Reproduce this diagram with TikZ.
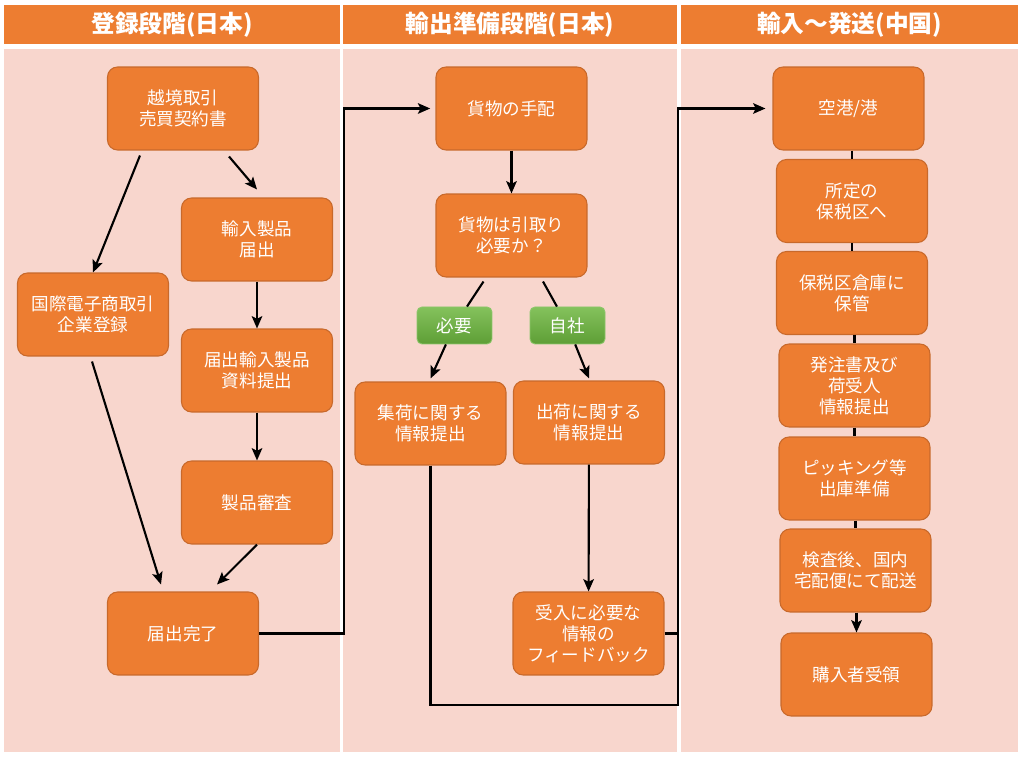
\documentclass[tikz,border=0pt]{standalone}
\usepackage{fontspec}
\usepackage{tikz}
\usetikzlibrary{calc,arrows.meta}
\newfontfamily\jpfont{Noto Sans CJK JP}
\definecolor{hdr}{HTML}{ED7D31}
\definecolor{pnl}{HTML}{F8D6CD}
\definecolor{boxfill}{HTML}{ED7D31}
\definecolor{boxline}{HTML}{C8692B}
\definecolor{tagtop}{HTML}{84C25C}
\definecolor{tagbot}{HTML}{5E9E36}
\definecolor{tagline}{HTML}{8CC66A}

\begin{document}
\begin{tikzpicture}[x=0.02cm,y=-0.02cm,
  box/.style={draw=boxline,line width=0.6pt,fill=boxfill,rounded corners=0.2cm,minimum width=3.02cm,minimum height=1.66cm,inner sep=2pt,align=center,text=white,font=\jpfont\fontsize{10}{12}\selectfont},
  tag/.style={draw=tagline,line width=0.5pt,top color=tagtop,bottom color=tagbot,rounded corners=0.1cm,minimum width=1.5cm,minimum height=0.74cm,text=white,font=\jpfont\fontsize{10}{12}\selectfont},
  head/.style={fill=hdr,minimum height=0.78cm,inner sep=0pt,text=white,font=\jpfont\bfseries\fontsize{13.5}{16}\selectfont},
  arr/.style={line width=1.2pt,-{Stealth[length=7pt,width=6pt,inset=1.5pt]}},
  con/.style={line width=1.2pt}]
\useasboundingbox (0,0) rectangle (1024,759);
\fill[white] (0,0) rectangle (1024,759);
\fill[pnl] (4,49) rectangle (340,752);
\fill[pnl] (343,49) rectangle (677,752);
\fill[pnl] (681,49) rectangle (1018,752);

\node[head,minimum width=6.72cm] (H1) at (172,24.5) {登録段階(日本)};
\node[head,minimum width=6.68cm] (H2) at (510,24.5) {輸出準備段階(日本)};
\node[head,minimum width=6.74cm] (H3) at (849.5,24.5) {輸入～発送(中国)};

\node[box] (A) at (183,108.5) {越境取引\\売買契約書};
\node[box] (B) at (257,239.5) {輸入製品\\届出};
\node[box] (C) at (93,314.5) {国際電子商取引\\企業登録};
\node[box] (D) at (257,370.5) {届出輸入製品\\資料提出};
\node[box] (E) at (257,502.5) {製品審査};
\node[box] (F) at (183,633.5) {届出完了};

\node[box] (G) at (511.5,108.5) {貨物の手配};
\node[box] (H) at (511.5,235.5) {貨物は引取り\\必要か？};
\node[tag] (S) at (454.5,325.5) {必要};
\node[tag] (T) at (567.5,325.5) {自社};
\node[box] (I) at (430.5,423.5) {集荷に関する\\情報提出};
\node[box] (J) at (589,422.5) {出荷に関する\\情報提出};
\node[box] (K) at (588.5,633.5) {受入に必要な\\情報の\\フィードバック};

\node[box] (L) at (848.5,108.5) {空港/港};
\node[box] (M) at (852,201) {所定の\\保税区へ};
\node[box] (N) at (852,293) {保税区倉庫に\\保管};
\node[box] (O) at (854.5,385.5) {発注書及び\\荷受人\\情報提出};
\node[box] (P) at (854.5,478.5) {ピッキング等\\出庫準備};
\node[box] (Q) at (855.5,570.5) {検査後、国内\\宅配便にて配送};
\node[box] (R) at (856.5,674.5) {購入者受領};

\coordinate (U) at (678,705);

\draw[arr] ($(A.south)+(-43,5)$) -- (C.north);
\draw[arr] ($(A.south)+(46,6)$) -- ($(B.north)+(0,-8)$);
\draw[arr] (B) -- (D);
\draw[arr] (D) -- (E);
\draw[arr] ($(C.south)+(-1,5)$) -- ($(F.north)+(-22,-7)$);
\draw[arr] (E.south) -- ($(F.north)+(34,-7)$);
\draw[arr,shorten >=3pt] (F.east) -- ++(85,0) |- (G.west);

\draw[arr] (G) -- (H);
\draw[con] ($(H.south)+(-28,4)$) -- (S);
\draw[arr] (S) -- ($(I.north)+(0,-3)$);
\draw[con] ($(H.south)+(31.5,4)$) -- (T);
\draw[arr] (T) -- ($(J.north)+(0,-2)$);
\draw[arr] (J) -- (K);
\draw[arr,shorten >=4pt] (I.south) |- (U) |- (L.west);
\draw[con] (K.east) -- (K.east -| U);

\draw[con] (M.north |- L.south) -- (M.north);
\draw[con] (N.north |- M.south) -- (N.north);
\draw[con] (O.north |- N.south) -- (O.north);
\draw[con] (P.north |- O.south) -- (P.north);
\draw[con] (Q.north |- P.south) -- (Q.north);
\draw[arr] (R.north |- Q.south) -- (R.north);

\end{tikzpicture}
\end{document}
